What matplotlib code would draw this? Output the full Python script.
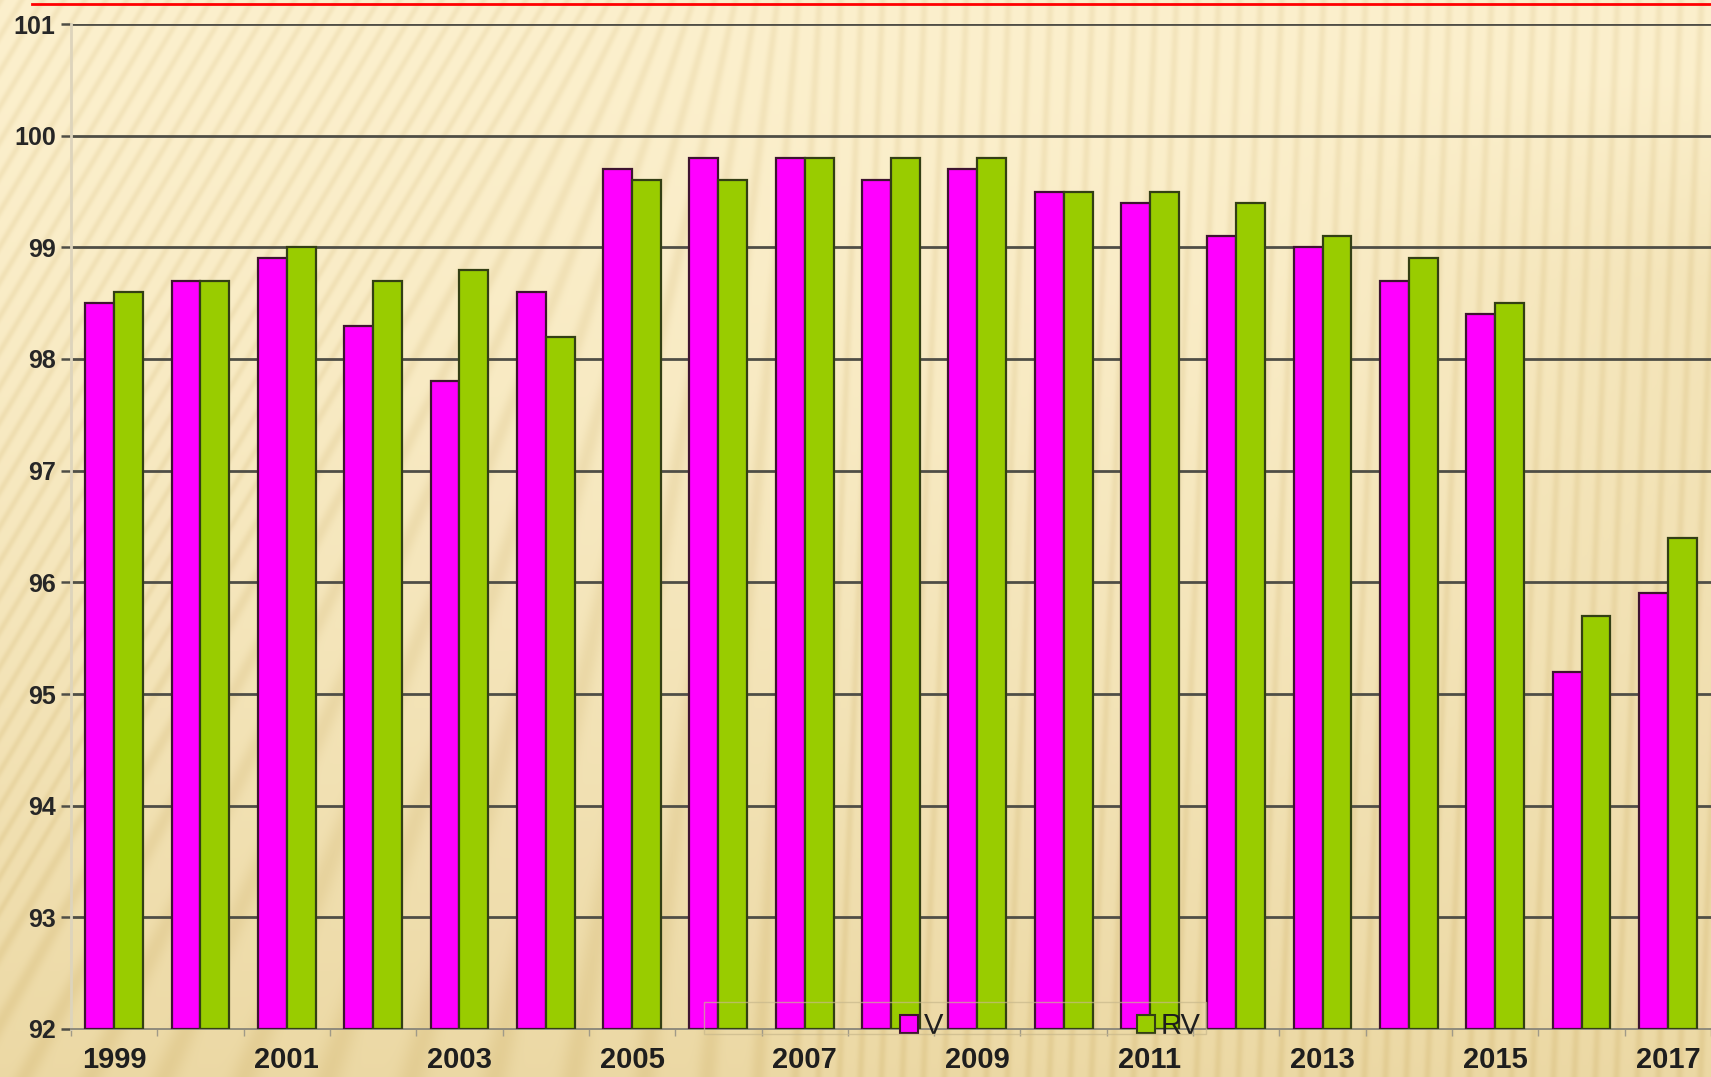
import numpy as np
import matplotlib.pyplot as plt
from matplotlib.lines import Line2D
from matplotlib.patches import Rectangle

annees = list(range(1999, 2018))
v = [98.5, 98.7, 98.9, 98.3, 97.8, 98.6, 99.7, 99.8, 99.8, 99.6,
     99.7, 99.5, 99.4, 99.1, 99.0, 98.7, 98.4, 95.2, 95.9]
rv = [98.6, 98.7, 99.0, 98.7, 98.8, 98.2, 99.6, 99.6, 99.8, 99.8,
      99.8, 99.5, 99.5, 99.4, 99.1, 98.9, 98.5, 95.7, 96.4]
etiquettes = [str(a) if a % 2 == 1 else '' for a in annees]
graduations = list(range(92, 102))

W, H = 1711, 1077
plt.rcParams['font.family'] = ['Liberation Sans', 'DejaVu Sans']

fig = plt.figure(figsize=(W / 100, H / 100), dpi=100)

# fond : degrade beige avec rayures fines
yy, xx = np.mgrid[0:H, 0:W].astype(float)
x0s = np.linspace(-1200, 2400, 4000)


def pente(x0):
    t = np.clip((x0 - 550) / 300, 0, 1)
    t = t * t * (3 - 2 * t)
    return 0.6 * (1 - t) + 0.04 * t


phase = np.empty((H, W))
for j in range(H):
    xr = x0s - pente(x0s) * j
    phase[j] = np.interp(xx[j], xr, x0s)
raies = (0.5 + 0.5 * np.cos(2 * np.pi * phase / 21)) ** 3

haut = np.array([252, 240, 205]) / 255
bas = np.array([234, 214, 160]) / 255
t = np.clip((yy / H) ** 1.4 * 0.9, 0, 1)
t = t + 0.4 * np.clip((xx - 1250) / 450, 0, 1) * np.clip((yy - 80) / 200, 0, 1) * (1 - yy / H)
t = np.clip(t, 0, 1)[..., None]
img = haut * (1 - t) + bas * t
img = img - 0.055 * raies[..., None] * np.array([0.6, 0.8, 1.2])
img = np.clip(img, 0, 1)

fond = fig.add_axes([0, 0, 1, 1], zorder=-5)
fond.imshow(img, aspect='auto', extent=(0, W, H, 0))
fond.axis('off')

# liseré rouge en haut
fig.add_artist(Line2D([32 / W, 1], [1 - 4 / H, 1 - 4 / H], color='#ff0000', lw=2, transform=fig.transFigure))

ax = fig.add_axes([71 / W, 48 / H, 1640 / W, 1005 / H])
ax.set_facecolor('none')

x = np.arange(len(annees))
w = 0.335
ax.bar(x - w / 2, [val - 92 for val in v], w, bottom=92, color='#ff00ff',
       edgecolor='#3e1430', linewidth=1.6, zorder=3, label='V')
ax.bar(x + w / 2, [val - 92 for val in rv], w, bottom=92, color='#99cc00',
       edgecolor='#333f14', linewidth=1.6, zorder=3, label='RV')

ax.set_xlim(-0.5, len(annees) - 0.5)
ax.set_ylim(92, 101)
ax.set_yticks(graduations)
ax.set_yticklabels([str(g) for g in graduations], fontsize=18, fontweight='bold', color='#262626')
for g in graduations[1:]:
    ax.axhline(g, color='#4f4e46', lw=2.0, zorder=1)

ax.set_xticks(x)
ax.set_xticklabels(etiquettes, fontsize=21, fontweight='bold', color='#1e1e1e')
ax.set_xticks(np.arange(-0.5, len(annees), 1), minor=True)
ax.tick_params(axis='x', which='major', length=0, pad=12)
ax.tick_params(axis='x', which='minor', length=5, width=1, color='#a09a88')
ax.tick_params(axis='y', length=7, width=1.8, color='#4f4e46', pad=4)

for cote in ['top', 'right']:
    ax.spines[cote].set_visible(False)
ax.spines['left'].set_color('#ddd4bc')
ax.spines['left'].set_linewidth(2)
ax.spines['bottom'].set_color('#8f8b7c')
ax.spines['bottom'].set_linewidth(1.4)

poignees = [
    Line2D([], [], marker='s', ls='', markersize=13, markerfacecolor='#ff00ff', markeredgecolor='#3e1430', markeredgewidth=1.5),
    Line2D([], [], marker='s', ls='', markersize=13, markerfacecolor='#99cc00', markeredgecolor='#333f14', markeredgewidth=1.5),
]
leg = ax.legend(poignees, ['V', 'RV'], ncol=2, loc='center left', bbox_to_anchor=(0.505, 0.003),
                frameon=False, fontsize=21, handlelength=0.7, handletextpad=0.15,
                columnspacing=6.6, borderpad=0, borderaxespad=0)
leg.set_zorder(5)
for txt in leg.get_texts():
    txt.set_color('#1e1e1e')

fig.add_artist(Rectangle((704 / W, 1 - 1034 / H), 502 / W, 32 / H, transform=fig.transFigure,
                         facecolor='none', edgecolor='#c8b88c', lw=1, alpha=0.7, zorder=4))

fig.savefig('out.png', dpi=100)
